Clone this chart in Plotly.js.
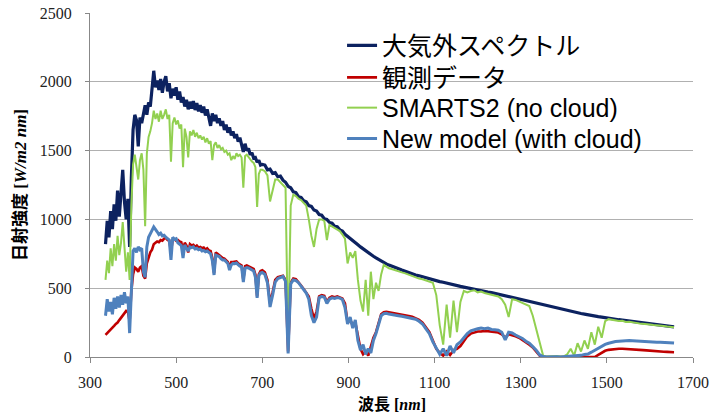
<!DOCTYPE html>
<html><head><meta charset="utf-8">
<script src="https://cdn.plot.ly/plotly-3.0.1.min.js"></script>
<style>html,body{margin:0;padding:0;background:#fff}#chart{width:721px;height:414px}</style>
</head><body><div id="chart"></div>
<script>
// wavelength grid [nm]
const wavelength = [
  336,340,344,348,352,356,360,364,
  368,372,376,380,384,388,392,396,
  400,404,408,412,416,420,424,428,
  432,436,440,444,448,452,456,460,
  464,468,472,476,480,484,488,492,
  496,500,504,508,512,516,520,524,
  528,532,536,540,544,548,552,556,
  560,564,568,572,576,580,584,588,
  592,596,600,604,608,612,616,620,
  624,628,632,636,640,644,648,652,
  656,660,664,668,672,676,680,684,
  688,692,696,700,
  706,712,718,724,730,736,742,748,
  754,760,766,772,778,784,790,796,
  802,808,814,820,826,832,838,844,
  850,856,862,868,874,880,886,892,
  898,904,910,916,922,928,934,940,
  946,952,958,964,970,976,982,988,
  994,1000,
  1008,1016,1024,1032,1040,1048,1056,1064,
  1072,1080,1088,1096,1104,1112,1120,1128,
  1136,1144,1152,1160,1168,1176,1184,1192,
  1200,1208,1216,1224,1232,1240,1248,1256,
  1264,1272,1280,1288,1296,1304,1312,1320,
  1328,1336,1344,1352,1360,1368,1376,1384,
  1392,1400,1408,1416,1424,1432,1440,1448,
  1456,1464,1472,1480,1488,1496,1504,1512,
  1520,1528,1536,1544,1552,1560,1568,1576,
  1584,1592,1600,1608,1616,1624,1632,1640,
  1648,1656
];

// 大気外スペクトル
const extraterrestrial = [
  820,990,870,1060,930,1110,990,1210,
  1020,1160,1360,1130,1000,1150,800,1300,
  1650,1760,1720,1530,1740,1700,1780,1830,
  1760,1850,1820,1950,2080,1960,2010,1940,
  2020,1920,2000,2040,1930,1990,1880,1950,
  1900,1960,1870,1930,1850,1890,1820,1870,
  1800,1855,1805,1860,1795,1845,1785,1830,
  1775,1820,1755,1800,1740,1680,1770,1715,
  1760,1700,1735,1680,1715,1650,1690,1630,
  1670,1610,1640,1590,1620,1565,1595,1540,
  1490,1550,1500,1515,1470,1485,1445,1450,
  1415,1430,1395,1400,
  1395,1360,1365,1335,1340,1310,1315,1285,
  1270,1240,1230,1200,1195,1165,1160,1135,
  1128,1100,1095,1068,1060,1035,1030,1005,
  1000,978,972,950,947,924,915,892,
  878,862,846,830,815,800,785,770,
  757,745,732,720,708,697,687,677,
  668,660,
  648,640,632,624,613,606,596,590,
  582,578,570,562,556,548,543,536,
  530,524,518,513,508,502,497,492,
  487,482,478,472,468,462,458,452,
  445,440,434,428,421,415,408,401,
  396,390,383,378,372,366,361,355,
  350,344,338,333,327,322,316,312,
  306,302,297,293,290,285,282,278,
  275,271,268,265,262,259,255,252,
  249,246,243,240,237,234,231,227,
  223,219
];

// 観測データ
const observed = [
  160,172,185,198,212,226,240,250,
  268,285,300,318,335,330,260,480,
  600,650,640,620,650,660,590,570,
  680,720,760,780,820,830,840,835,
  850,845,860,865,850,845,770,850,
  855,845,850,840,835,770,830,810,
  760,820,810,815,800,810,795,800,
  790,795,780,790,775,770,720,610,
  760,750,740,725,720,715,700,690,
  650,690,690,690,695,680,670,665,
  560,660,665,660,655,650,640,600,
  440,600,625,630,
  615,560,390,470,560,580,585,590,
  560,40,540,570,565,545,520,495,
  470,440,350,280,330,440,450,445,
  400,430,440,435,440,435,425,390,
  250,270,230,250,150,60,20,40,
  10,70,140,180,250,310,325,328,
  325,322,
  318,315,310,305,298,292,283,270,
  250,215,180,120,60,30,10,40,
  15,50,60,80,120,150,170,180,
  185,185,190,188,185,180,178,165,
  140,165,160,150,140,125,105,90,
  70,40,10,2,0,0,0,0,
  0,0,0,0,0,0,0,0,
  0,0,0,15,30,45,52,56,
  58,60,60,59,58,58,56,53,
  50,48,45,44,42,40,38,37,
  36,35
];

// SMARTS2 (no cloud)
const smarts2 = [
  560,700,610,790,660,820,700,880,
  740,830,980,780,620,760,560,1100,
  1400,1470,1380,1290,1430,1480,1360,950,
  1480,1600,1640,1700,1790,1730,1770,1710,
  1790,1730,1760,1800,1730,1760,1420,1700,
  1740,1690,1720,1660,1690,1380,1660,1600,
  1450,1640,1610,1650,1600,1630,1590,1610,
  1580,1600,1560,1590,1550,1570,1430,1540,
  1560,1520,1540,1510,1520,1490,1500,1470,
  1480,1430,1460,1440,1480,1460,1470,1450,
  1230,1460,1470,1450,1440,1420,1410,1380,
  1090,1330,1360,1360,
  1350,1320,1130,1210,1290,1290,1270,1250,
  1230,80,1100,1180,1170,1150,1140,1120,
  1100,1000,880,800,930,1000,1000,990,
  850,960,950,935,930,915,890,860,
  680,760,720,770,560,410,330,560,
  300,620,420,540,480,600,670,655,
  645,640,
  630,625,615,608,598,590,580,570,
  565,555,545,540,450,230,90,380,
  140,410,180,400,480,470,480,485,
  470,475,465,460,455,445,440,420,
  380,290,420,415,405,395,385,370,
  300,200,100,10,4,6,3,7,
  4,5,20,60,10,100,40,120,
  60,180,90,220,140,260,275,270,
  268,262,263,255,256,250,248,244,
  243,238,237,233,232,228,226,222,
  219,216
];

// New model (with cloud)
const newModel = [
  300,420,330,400,310,430,350,440,
  360,450,380,470,390,440,174,500,
  770,790,760,800,780,790,620,580,
  800,870,900,920,945,930,910,890,
  900,880,885,870,860,850,705,870,
  855,860,830,820,810,720,815,790,
  770,800,795,800,785,790,780,785,
  770,775,765,770,760,750,700,596,
  740,735,730,715,705,705,690,680,
  632,670,680,678,683,670,660,655,
  545,645,650,647,640,635,625,580,
  429,590,610,615,
  600,540,363,450,545,570,580,585,
  550,25,530,560,555,540,515,490,
  465,420,300,250,290,430,440,435,
  390,420,430,425,432,428,418,360,
  240,290,210,270,120,50,90,20,
  60,30,120,170,240,300,315,318,
  312,310,
  305,300,296,290,285,280,275,260,
  240,205,170,110,70,20,60,10,
  80,30,90,110,140,170,190,200,
  205,210,205,210,200,198,195,180,
  124,180,175,160,150,135,115,100,
  75,50,15,3,0,2,0,1,
  0,2,0,2,5,8,12,18,
  22,35,50,65,80,92,100,108,
  112,115,118,118,120,118,116,117,
  114,112,113,110,108,108,106,104,
  103,101
];

const seriesNames = ['大気外スペクトル', '観測データ', 'SMARTS2 (no cloud)', 'New model (with cloud)'];
const xTicks = [300, 500, 700, 900, 1100, 1300, 1500, 1700];
const yTicks = [0, 500, 1000, 1500, 2000, 2500];

const seriesValues = [extraterrestrial, observed, smarts2, newModel];
const seriesColors = ['#0c2260', '#c00000', '#92d050', '#4f81bd'];
const seriesWidths = [3.2, 2.6, 2, 3];
const legendIds = ['legend', 'legend2', 'legend3', 'legend4'];
const legendTops = [0.972, 0.879, 0.791, 0.701];

const traces = seriesValues.map((vals, i) => ({
  type: 'scatter', mode: 'lines',
  x: wavelength, y: vals, name: seriesNames[i],
  legend: legendIds[i],
  line: {color: seriesColors[i], width: seriesWidths[i]},
  hoverinfo: 'skip'
}));

const tickFont = {family: 'Liberation Serif, Times New Roman, serif', size: 16, color: '#222'};
const titleFont = {family: 'Liberation Serif, Noto Sans CJK JP, serif', size: 17, color: '#000'};
const xTitleFont = {family: 'Liberation Serif, Noto Sans CJK JP, serif', size: 16, color: '#000'};
const legendFont = {family: 'Liberation Sans, Arial, Noto Sans CJK JP, sans-serif', size: 25, color: '#000'};

const layout = {
  width: 721, height: 414,
  paper_bgcolor: '#fff', plot_bgcolor: '#fff',
  margin: {l: 90, r: 28, t: 13, b: 57, pad: 0},
  showlegend: true,
  xaxis: {
    range: [300, 1700], tickvals: xTicks, ticktext: xTicks.map(String),
    ticks: 'outside', ticklen: 5, tickcolor: '#888', tickwidth: 1,
    showline: true, linecolor: '#888', linewidth: 1,
    showgrid: false, zeroline: false, automargin: false,
    tickfont: tickFont, ticklabelstandoff: 6
  },
  yaxis: {
    range: [0, 2500], tickvals: yTicks, ticktext: yTicks.map(String),
    ticks: 'outside', ticklen: 4, tickcolor: '#888', tickwidth: 1,
    showline: true, linecolor: '#888', linewidth: 1,
    showgrid: true, gridcolor: '#b0b0b0', gridwidth: 1,
    zeroline: false, automargin: false,
    tickfont: tickFont, ticklabelstandoff: 10,
    title: {text: '<b>日射強度 [<i>W/m2 nm</i>]</b>', font: titleFont, standoff: 8}
  },
  annotations: [{
    text: '<b>波長 [<i>nm</i>]</b>', font: xTitleFont,
    xref: 'paper', yref: 'paper', x: 0.5, y: 0,
    xanchor: 'center', yanchor: 'top', yshift: -37, showarrow: false
  }]
};
legendIds.forEach((id, i) => {
  layout[id] = {
    x: 0.418, y: legendTops[i], xanchor: 'left', yanchor: 'top',
    bgcolor: 'rgba(0,0,0,0)', borderwidth: 0,
    font: legendFont, itemwidth: 30
  };
});

Plotly.newPlot('chart', traces, layout, {staticPlot: true, displayModeBar: false});
</script>
</body></html>
